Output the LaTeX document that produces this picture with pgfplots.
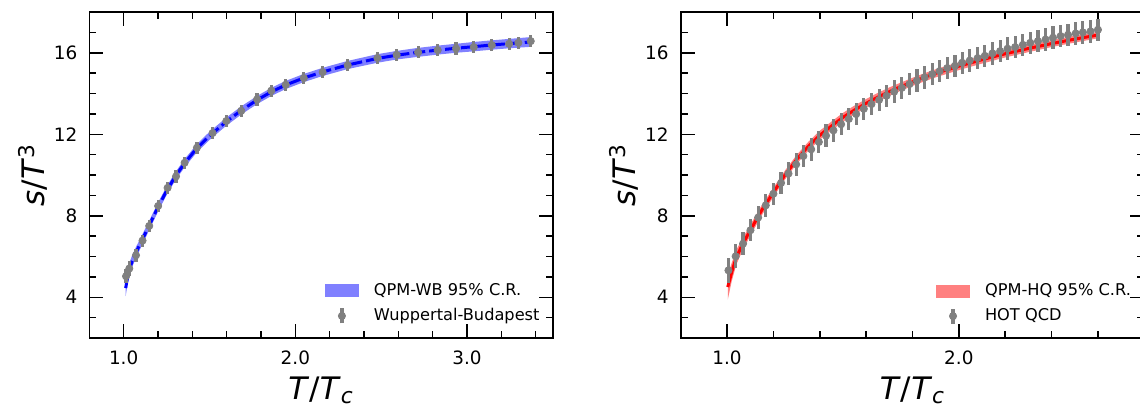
\documentclass[border=0pt]{standalone}
\usepackage{fontspec}
\setmainfont{DejaVu Sans}
\usepackage{pgfplots}
\pgfplotsset{compat=1.18}
\usepackage{pgfplotstable}
\usepgfplotslibrary{fillbetween}

\pgfplotstableread{
x y lo hi
1.012 4.45 4.05 4.85
1.020 4.85 4.49 5.21
1.033 5.35 5.03 5.67
1.050 5.78 5.49 6.07
1.072 6.20 5.93 6.47
1.100 6.68 6.43 6.93
1.130 7.20 6.96 7.44
1.160 7.72 7.49 7.95
1.200 8.42 8.20 8.64
1.250 9.22 9.01 9.43
1.300 9.92 9.72 10.12
1.355 10.58 10.38 10.78
1.427 11.32 11.12 11.52
1.500 11.92 11.72 12.12
1.598 12.62 12.42 12.82
1.685 13.17 12.97 13.37
1.777 13.68 13.48 13.88
1.860 14.08 13.88 14.28
1.944 14.42 14.22 14.62
2.049 14.76 14.56 14.96
2.159 15.06 14.86 15.26
2.305 15.40 15.20 15.60
2.478 15.72 15.51 15.93
2.590 15.88 15.67 16.09
2.715 16.02 15.80 16.24
2.829 16.13 15.91 16.35
2.936 16.22 16.00 16.44
3.039 16.30 16.07 16.53
3.144 16.38 16.15 16.61
3.245 16.45 16.22 16.68
3.371 16.53 16.29 16.77
}\wbband

\pgfplotstableread{
x y e
1.014 5.03 0.35
1.033 5.41 0.35
1.072 6.06 0.32
1.110 6.78 0.30
1.149 7.50 0.30
1.201 8.48 0.30
1.256 9.37 0.30
1.305 9.93 0.30
1.355 10.60 0.30
1.427 11.34 0.30
1.518 12.06 0.30
1.598 12.65 0.30
1.685 13.15 0.30
1.777 13.71 0.30
1.860 14.14 0.30
1.944 14.43 0.30
2.049 14.76 0.30
2.159 15.05 0.30
2.305 15.39 0.30
2.478 15.74 0.30
2.590 15.90 0.30
2.715 16.02 0.30
2.829 16.13 0.30
2.936 16.21 0.30
3.039 16.28 0.30
3.144 16.38 0.30
3.245 16.44 0.30
3.299 16.49 0.30
3.371 16.57 0.30
}\wbdata

\pgfplotstableread{
x y lo hi
1.003 4.50 3.88 5.12
1.020 5.23 4.78 5.68
1.040 5.97 5.61 6.33
1.067 6.60 6.30 6.90
1.100 7.28 7.01 7.55
1.150 8.28 8.03 8.53
1.200 9.15 8.92 9.38
1.250 10.00 9.78 10.22
1.300 10.76 10.54 10.98
1.350 11.40 11.18 11.62
1.400 11.95 11.73 12.17
1.450 12.40 12.18 12.62
1.500 12.83 12.61 13.05
1.550 13.19 12.97 13.41
1.600 13.52 13.31 13.73
1.650 13.82 13.61 14.03
1.700 14.09 13.88 14.30
1.750 14.34 14.14 14.54
1.800 14.57 14.37 14.77
1.850 14.79 14.59 14.99
1.900 14.99 14.79 15.19
1.950 15.17 14.97 15.37
2.000 15.34 15.15 15.53
2.100 15.66 15.47 15.85
2.200 15.95 15.77 16.13
2.300 16.21 16.03 16.39
2.400 16.45 16.28 16.62
2.500 16.67 16.50 16.84
2.600 16.87 16.71 17.03
}\hqband

\pgfplotstableread{
x y e
1.006 5.32 0.62
1.037 6.01 0.58
1.069 6.63 0.56
1.101 7.29 0.55
1.134 7.91 0.55
1.167 8.51 0.55
1.200 9.08 0.55
1.233 9.61 0.55
1.265 10.07 0.55
1.298 10.52 0.55
1.329 10.93 0.55
1.363 11.26 0.55
1.396 11.62 0.55
1.427 11.93 0.55
1.459 12.19 0.55
1.492 12.49 0.55
1.525 12.75 0.55
1.557 12.99 0.55
1.590 13.25 0.55
1.623 13.48 0.55
1.656 13.69 0.55
1.688 13.89 0.55
1.721 14.09 0.55
1.754 14.28 0.55
1.787 14.46 0.55
1.819 14.63 0.55
1.852 14.79 0.55
1.885 14.95 0.55
1.917 15.10 0.55
1.950 15.25 0.55
1.983 15.36 0.55
2.014 15.51 0.55
2.047 15.62 0.55
2.081 15.74 0.55
2.112 15.85 0.55
2.145 15.97 0.55
2.178 16.08 0.55
2.210 16.20 0.55
2.243 16.28 0.55
2.276 16.39 0.55
2.308 16.49 0.55
2.341 16.57 0.55
2.374 16.65 0.55
2.406 16.74 0.55
2.439 16.82 0.55
2.471 16.88 0.55
2.504 16.95 0.55
2.535 17.00 0.55
2.568 17.05 0.55
2.600 17.13 0.55
}\hqdata

\pgfplotsset{
  myax/.style={
    scale only axis, width=231.8pt, height=163pt,
    anchor=south west,
    xmin=0.8, ymin=2, ymax=18,
    ytick={4,8,12,16},
    minor ytick={3,5,6,7,9,10,11,13,14,15,17},
    tick align=inside, tick pos=both,
    major tick length=7pt, minor tick length=3.5pt,
    every tick/.style={black, line width=0.75pt},
    axis line style={line width=0.8pt},
    /pgf/number format/assume math mode=true,
    tick label style={font=\fontsize{9.2}{11}\selectfont},
    yticklabel style={xshift=-2.5pt},
    xticklabel style={yshift=-3pt},
    every axis x label/.style={at={(axis description cs:0.5,-0.1887)}, anchor=base},
    every axis y label/.style={at={(axis description cs:-0.122,0.5)}, rotate=90, anchor=center},
    label style={font=\fontsize{15.5}{18}\selectfont},
    xlabel={\textit{T}/\textit{T}\textsubscript{\textit{c}}},
    ylabel={\textit{s}/\textit{T}\textsuperscript{3}},
    legend style={draw=none, fill=none, at={(1,0)}, anchor=south east,
      xshift=-4.5pt, yshift=5pt, font=\fontsize{8.1}{10}\selectfont,
      row sep=1pt, column sep=5.5pt, inner sep=0pt},
    legend cell align=left,
  },
  bandleg/.style={legend image code/.code={\fill[#1] (0pt,-3.25pt) rectangle (17pt,3.25pt);}},
  errleg/.style={legend image code/.code={\draw[gray,line width=1.6pt] (8.5pt,-3.75pt) -- (8.5pt,3.75pt); \fill[gray] (8.5pt,0pt) circle (1.8pt);}},
  dataerr/.style={only marks, mark=*, mark size=1.8pt, color=gray,
    error bars/.cd, y dir=both, y explicit, error mark=none,
    error bar style={line width=1.6pt, gray}},
}

\begin{document}
\begin{tikzpicture}
\begin{axis}[myax, at={(44.65pt,35.5pt)}, xmax=3.5,
  xtick={1,2,3}, xticklabels={1.0,2.0,3.0},
  minor xtick={1.2,1.4,1.6,1.8,2.2,2.4,2.6,2.8,3.2,3.4}]
\addplot[draw=none, name path=wbU, forget plot] table[x=x,y=hi]{\wbband};
\addplot[draw=none, name path=wbL, forget plot] table[x=x,y=lo]{\wbband};
\addplot[blue!50, draw=none, bandleg=blue!50] fill between[of=wbU and wbL];
\addlegendentry{QPM-WB 95\% C.R.}
\addplot[blue, line width=1.5pt, dash pattern=on 6pt off 2pt, forget plot] table[x=x,y=y]{\wbband};
\addplot[errleg, dataerr] table[x=x,y=y,y error=e]{\wbdata};
\addlegendentry{Wuppertal-Budapest}
\end{axis}
\begin{axis}[myax, at={(340.35pt,35.5pt)}, xmax=2.8,
  xtick={1,2}, xticklabels={1.0,2.0},
  minor xtick={1.2,1.4,1.6,1.8,2.2,2.4,2.6}]
\addplot[draw=none, name path=hqU, forget plot] table[x=x,y=hi]{\hqband};
\addplot[draw=none, name path=hqL, forget plot] table[x=x,y=lo]{\hqband};
\addplot[red!50, draw=none, bandleg=red!50] fill between[of=hqU and hqL];
\addlegendentry{QPM-HQ 95\% C.R.}
\addplot[red, line width=1.5pt, forget plot] table[x=x,y=y]{\hqband};
\addplot[errleg, dataerr] table[x=x,y=y,y error=e]{\hqdata};
\addlegendentry{HOT QCD}
\end{axis}
\pgfresetboundingbox
\useasboundingbox (0,0) rectangle (570pt,204.5pt);
\end{tikzpicture}
\end{document}
